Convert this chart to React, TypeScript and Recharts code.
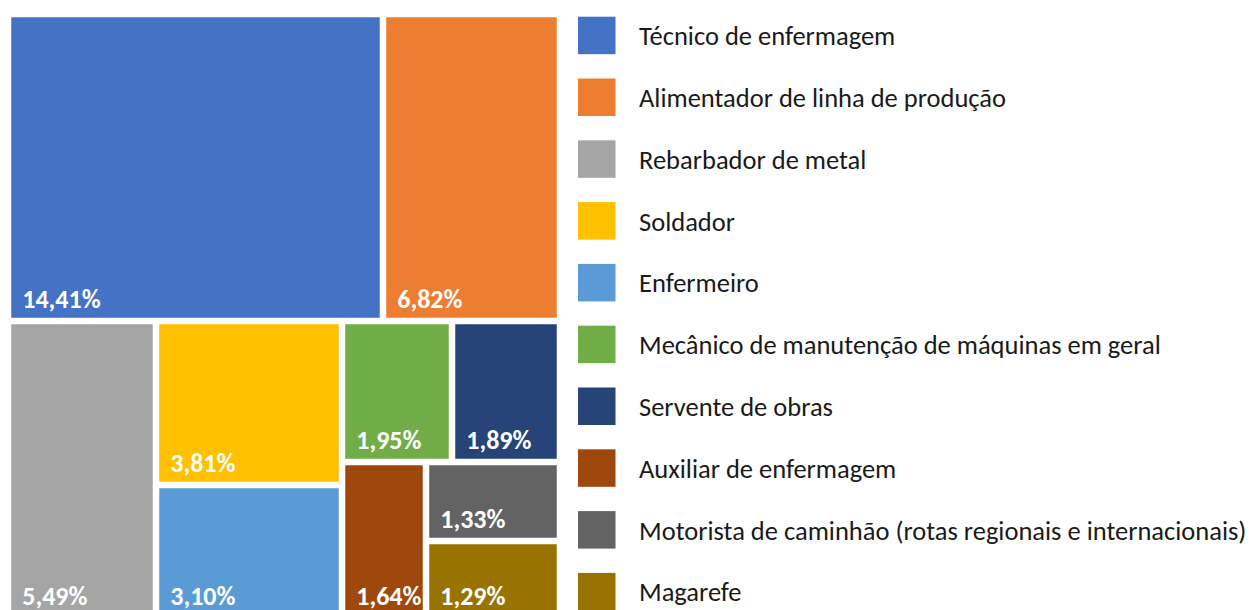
import React from 'react';
import { Treemap } from 'recharts';

const categories: string[] = [
  'Técnico de enfermagem',
  'Alimentador de linha de produção',
  'Rebarbador de metal',
  'Soldador',
  'Enfermeiro',
  'Mecânico de manutenção de máquinas em geral',
  'Servente de obras',
  'Auxiliar de enfermagem',
  'Motorista de caminhão (rotas regionais e internacionais)',
  'Magarefe',
];

const shares: number[] = [14.41, 6.82, 5.49, 3.81, 3.1, 1.95, 1.89, 1.64, 1.33, 1.29];

const colors: string[] = [
  '#4472C4',
  '#ED7D31',
  '#A5A5A5',
  '#FFC000',
  '#5B9BD5',
  '#70AD47',
  '#264478',
  '#9E480E',
  '#636363',
  '#997300',
];

const data = categories.map((name, i) => ({ name, value: shares[i] }));

const fmt = (v: number) => v.toFixed(2).replace('.', ',') + '%';

const FONT = 'Carlito, Calibri, Lato, sans-serif';

function Cell(props: any) {
  const { x, y, width, height, index, depth, value } = props;
  if (depth !== 1) return null;
  const g = 3.25;
  const w = Math.max(0, width - 2 * g);
  const h = Math.max(0, height - 2 * g);
  return (
    <g>
      <rect x={x + g} y={y + g} width={w} height={h} fill={colors[index % colors.length]} />
      <text
        x={x + g + 11}
        y={y + height - g - 10}
        fill="#ffffff"
        fontFamily={FONT}
        fontWeight={700}
        fontSize={26}
      >
        {fmt(value)}
      </text>
    </g>
  );
}

function Legend() {
  const x0 = 578;
  const y0 = 16.7;
  const step = 61.8;
  const size = 37.5;
  return (
    <svg
      width={1249}
      height={610}
      style={{ position: 'absolute', left: 0, top: 0, pointerEvents: 'none' }}
    >
      {categories.map((name, i) => (
        <g key={name}>
          <rect x={x0} y={y0 + i * step} width={size} height={size} fill={colors[i]} />
          <text
            x={639}
            y={y0 + i * step + 28.5}
            fill="#1a1a1a"
            fontFamily={FONT}
            fontSize={26.5}
          >
            {name}
          </text>
        </g>
      ))}
    </svg>
  );
}

export default function App() {
  return (
    <div
      style={{
        position: 'fixed',
        left: 0,
        top: 0,
        width: 1249,
        height: 610,
        overflow: 'hidden',
        background: '#ffffff',
      }}
    >
      <div style={{ position: 'absolute', left: 8, top: 14 }}>
        <Treemap
          width={552}
          height={604}
          data={data}
          dataKey="value"
          nameKey="name"
          aspectRatio={1}
          isAnimationActive={false}
          content={<Cell />}
        />
      </div>
      <Legend />
    </div>
  );
}
